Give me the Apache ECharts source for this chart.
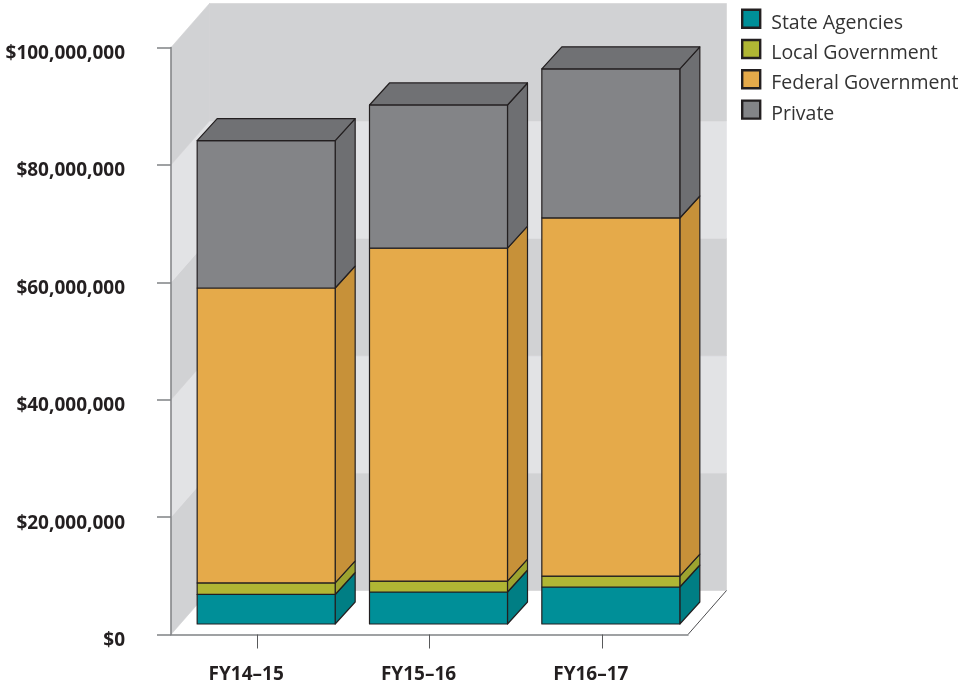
<!DOCTYPE html>
<html><head><meta charset="utf-8">
<style>html,body{margin:0;padding:0;background:#fff}#c{width:962px;height:686px}</style>
<script src="https://cdn.jsdelivr.net/npm/echarts@6/dist/echarts.min.js"></script>
</head><body><div id="c"></div>
<script>
const categories = ['FY14-15','FY15-16','FY16-17'];
const stateAgencies = [5030000, 5450000, 6300000];
const localGovernment = [1960000, 1870000, 1870000];
const federalGovernment = [50250000, 56700000, 61000000];
const privateFunds = [25100000, 24400000, 25400000];
const yTicks = [0, 20000000, 40000000, 60000000, 80000000, 100000000];

const names = ['State Agencies','Local Government','Federal Government','Private'];
const stacks = [stateAgencies, localGovernment, federalGovernment, privateFunds];
const fronts = ['#008f98','#b0b634','#e5aa4a','#838487'];
const sides  = ['#007e84','#9da32f','#c79139','#6e6f72'];
const topFace = '#707174';
const ink = '#231f20';
const HALF = 69, FX = 9, FY = -10.5, DX = 20, DY = -22;
const WX = 38.5, WY = -44;

function poly(points, fill, line){
  return {type:'polygon', shape:{points},
    style:{fill, stroke:line||fill, lineWidth:line?1.2:0.6, lineJoin:'round'}};
}
const bandFills = ['#d1d2d4','#e2e3e5'];
function renderWall(params, api){
  const lo = api.value(0), hi = api.value(1), i = params.dataIndex;
  const fill = bandFills[i % 2];
  const a = api.coord([0, lo]), b = api.coord([0, hi]);
  const c = api.coord([categories.length-1, lo]), d = api.coord([categories.length-1, hi]);
  const w = api.size([1,0])[0] / 2;
  const L = a[0]-w, R = c[0]+w;
  const kids = [
    poly([[L+WX,a[1]+WY],[R+WX,c[1]+WY],[R+WX,d[1]+WY],[L+WX,b[1]+WY]], fill),
    poly([[L,a[1]],[L+WX,a[1]+WY],[L+WX,b[1]+WY],[L,b[1]]], fill)
  ];
  if(i===0){
    kids.push({type:'line',shape:{x1:R,y1:a[1],x2:R+WX,y2:a[1]+WY},style:{stroke:'#4d4d4f',lineWidth:1}});
  }
  return {type:'group',children:kids};
}
function renderBar(s){
  return function(params, api){
    const cat = api.value(0), lo = api.coord([cat, api.value(1)]), hi = api.coord([cat, api.value(2)]);
    const x0 = lo[0]+FX-HALF, x1 = lo[0]+FX+HALF, y0 = lo[1]+FY, y1 = hi[1]+FY;
    const kids = [
      poly([[x1,y0],[x1+DX,y0+DY],[x1+DX,y1+DY],[x1,y1]], sides[s], ink),
      poly([[x0,y0],[x1,y0],[x1,y1],[x0,y1]], fronts[s], ink)
    ];
    if(s===stacks.length-1){
      kids.push(poly([[x0,y1],[x1,y1],[x1+DX,y1+DY],[x0+DX,y1+DY]], topFace, ink));
    }
    return {type:'group',children:kids};
  };
}
const wallData = yTicks.slice(0,-1).map((v,i)=>[v,yTicks[i+1]]);
const series = [{
  type:'custom', name:'wall', silent:true, z:1, renderItem:renderWall,
  data:wallData.map(d=>[d[0],d[1]]), encode:{y:[0,1]}, clip:false
}];
stacks.forEach((arr,s)=>{
  series.push({
    type:'custom', name:names[s], z:2+s, clip:false, renderItem:renderBar(s),
    itemStyle:{color:fronts[s]},
    encode:{x:0,y:[1,2]},
    data:arr.map((v,i)=>{
      let low=0; for(let k=0;k<s;k++) low+=stacks[k][i];
      return [i,low,low+v];
    })
  });
});
const labelFont = {fontFamily:'"Open Sans"',fontWeight:700,color:ink,fontSize:19};
const chart = echarts.init(document.getElementById('c'),null,{renderer:'canvas'});
chart.setOption({
  animation:false, backgroundColor:'#fff',
  grid:{left:171,top:47.5,width:517,height:587,containLabel:false},
  legend:{
    orient:'vertical', left:741, top:8.5, padding:0, itemWidth:18, itemHeight:18, itemGap:5.6, icon:'rect',
    selectedMode:false,
    formatter:n=>'{a|'+n+'}',
    textStyle:{fontFamily:'"Open Sans"',fontSize:19.5,color:'#333',
      rich:{a:{fontFamily:'"Open Sans"',fontSize:19.5,color:'#333',padding:[9,0,0,6]}}},
    data:names.map((n,i)=>({name:n,itemStyle:{color:fronts[i],borderColor:ink,borderWidth:2.4}}))
  },
  xAxis:{type:'category',data:categories,z:6,
    axisLine:{lineStyle:{color:'#808285',width:1.5}},
    axisTick:{show:true,alignWithLabel:true,length:14,lineStyle:{color:'#58595b',width:1}},
    axisLabel:Object.assign({margin:31,padding:[0,22,0,0],formatter:v=>v.replace('-','–')},labelFont)},
  yAxis:{type:'value',min:yTicks[0],max:yTicks[yTicks.length-1],interval:yTicks[1]-yTicks[0],z:6,
    splitLine:{show:false},
    axisLine:{show:true,lineStyle:{color:'#808285',width:1.5}},
    axisTick:{show:true,length:14,lineStyle:{color:'#808285',width:1.5}},
    axisLabel:Object.assign({margin:46,verticalAlign:'top',lineHeight:12,formatter:v=>'$'+v.toLocaleString('en-US')},labelFont)},
  series
});
</script></body></html>
